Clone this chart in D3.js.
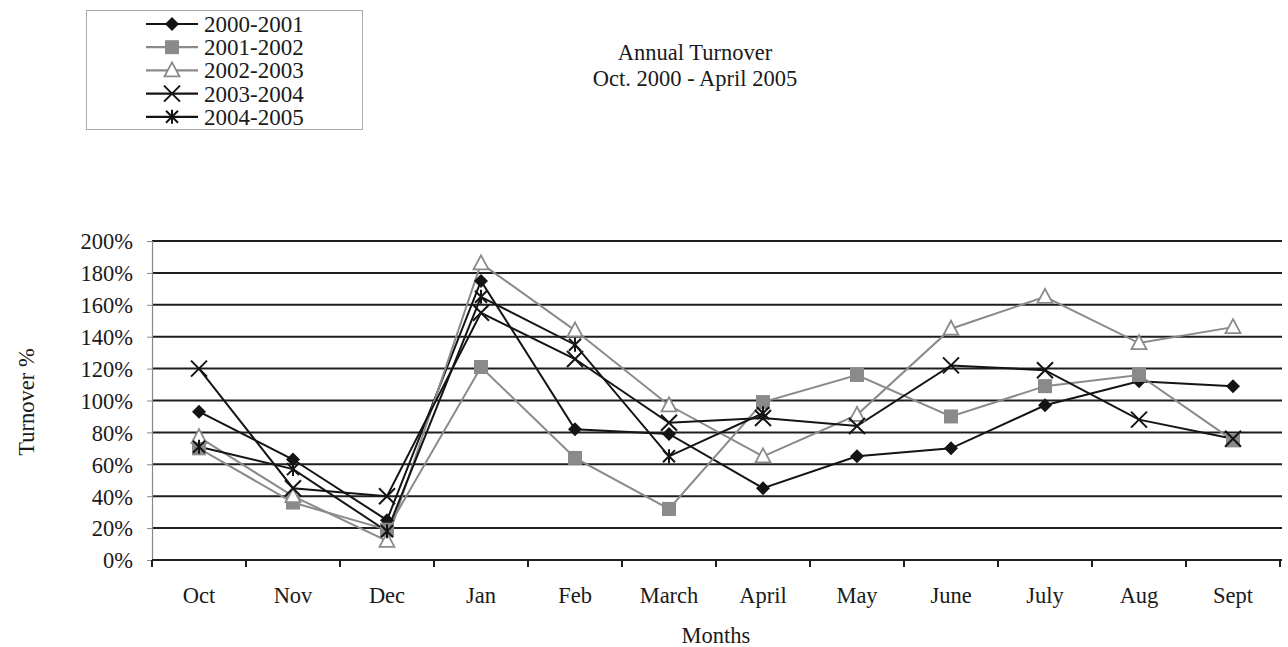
<!DOCTYPE html>
<html>
<head>
<meta charset="utf-8">
<script src="https://cdn.jsdelivr.net/npm/d3@7"></script>
<style>
  html, body { margin: 0; padding: 0; background: #fff; }
  svg { display: block; }
  text { font-family: "Liberation Serif", "DejaVu Serif", serif; fill: #1a1a1a; }
</style>
</head>
<body>
<svg id="chart" width="1288" height="647"></svg>
<script>
// Months of the fiscal year (Oct -> Sept)
const months = ["Oct", "Nov", "Dec", "Jan", "Feb", "March", "April", "May", "June", "July", "Aug", "Sept"];

// Turnover % per month, one array per year
const y2000_2001 = [93, 63, 25, 175, 82, 79, 45, 65, 70, 97, 112, 109];
const y2001_2002 = [70, 36, 19, 121, 64, 32, 99, 116, 90, 109, 116, 75];
const y2002_2003 = [77, 40, 12, 186, 144, 97, 65, 91, 145, 165, 136, 146];
const y2003_2004 = [120, 45, 40, 155, 126, 86, 89, 84, 122, 119, 88, 76];
const y2004_2005 = [71, 57, 18, 165, 135, 65, 92];

const yTicks = [0, 20, 40, 60, 80, 100, 120, 140, 160, 180, 200];

const seriesNames = ["2000-2001", "2001-2002", "2002-2003", "2003-2004", "2004-2005"];
const seriesValues = [y2000_2001, y2001_2002, y2002_2003, y2003_2004, y2004_2005];
const seriesStyle = [
  { line: "#141414", marker: "diamond" },
  { line: "#8a8a8a", marker: "square" },
  { line: "#8a8a8a", marker: "triangle" },
  { line: "#141414", marker: "cross" },
  { line: "#141414", marker: "asterisk" }
];

const FS = "22.5px";
const svg = d3.select("#chart");
const plot = { left: 152, right: 1282, top: 241, bottom: 560 };

const x = d3.scaleBand().domain(months).range([plot.left, plot.left + 94 * 12]).paddingInner(0).paddingOuter(0);
const y = d3.scaleLinear().domain([0, 200]).range([plot.bottom, plot.top]);
const cx = m => x(m) + x.bandwidth() / 2;

// Title
const title = svg.append("text").attr("text-anchor", "middle").style("font-size", FS);
title.append("tspan").attr("x", 695).attr("y", 60).text("Annual Turnover");
title.append("tspan").attr("x", 695).attr("y", 86).text("Oct. 2000 - April 2005");

// Horizontal gridlines
svg.append("g").selectAll("line").data(yTicks.filter(t => t > 0)).join("line")
  .attr("x1", plot.left).attr("x2", plot.right)
  .attr("y1", d => y(d)).attr("y2", d => y(d))
  .attr("stroke", "#1e1e1e").attr("stroke-width", 2);

// Y axis
const yAxis = svg.append("g").attr("transform", `translate(${plot.left},0)`)
  .call(d3.axisLeft(y).tickValues(yTicks).tickFormat(d => d + "%").tickSize(5).tickPadding(14));
yAxis.select(".domain").attr("stroke", "#888").attr("stroke-width", 1.2);
yAxis.selectAll(".tick line").attr("stroke", "#888");
yAxis.selectAll(".tick text").style("font-size", FS).attr("fill", "#1a1a1a")
  .style("font-family", "Liberation Serif, serif").attr("dy", "0.35em");

// X axis
const boundaries = months.map(m => x(m)).concat([x(months[months.length - 1]) + x.bandwidth()]);
const xg = svg.append("g");
xg.append("line").attr("x1", plot.left).attr("x2", plot.right)
  .attr("y1", plot.bottom).attr("y2", plot.bottom).attr("stroke", "#1e1e1e").attr("stroke-width", 2);
xg.selectAll("line.tk").data(boundaries).join("line").attr("class", "tk")
  .attr("x1", d => d).attr("x2", d => d).attr("y1", plot.bottom).attr("y2", plot.bottom + 7)
  .attr("stroke", "#1e1e1e").attr("stroke-width", 2);
xg.selectAll("text").data(months).join("text")
  .attr("x", d => cx(d)).attr("y", 603).attr("text-anchor", "middle")
  .style("font-size", FS).text(d => d);

// Axis titles
svg.append("text").attr("x", 716).attr("y", 643).attr("text-anchor", "middle")
  .style("font-size", FS).text("Months");
svg.append("text").attr("transform", "translate(34,402) rotate(-90)").attr("text-anchor", "middle")
  .style("font-size", FS).text("Turnover %");

// Marker drawing
function drawMarker(g, type) {
  if (type === "diamond") {
    g.append("path").attr("d", "M0,-7L7,0L0,7L-7,0Z").attr("fill", "#141414");
  } else if (type === "square") {
    g.append("rect").attr("x", -7).attr("y", -7).attr("width", 14).attr("height", 14).attr("fill", "#8a8a8a");
  } else if (type === "triangle") {
    g.append("path").attr("d", "M0,-8L7.5,6L-7.5,6Z").attr("fill", "#fff").attr("stroke", "#8a8a8a").attr("stroke-width", 1.8);
  } else if (type === "cross") {
    g.append("path").attr("d", "M-8,-8L8,8M-8,8L8,-8").attr("stroke", "#141414").attr("stroke-width", 2);
  } else if (type === "asterisk") {
    g.append("path").attr("d", "M-6,-6L6,6M-6,6L6,-6M0,-7L0,7").attr("stroke", "#141414").attr("stroke-width", 2);
  }
}

// Series lines and markers
const line = d3.line().x(d => cx(d.m)).y(d => y(d.v));
seriesValues.forEach((vals, i) => {
  const pts = vals.map((v, j) => ({ m: months[j], v }));
  svg.append("path").datum(pts).attr("d", line).attr("fill", "none")
    .attr("stroke", seriesStyle[i].line).attr("stroke-width", 2);
});
seriesValues.forEach((vals, i) => {
  vals.forEach((v, j) => {
    const g = svg.append("g").attr("transform", `translate(${cx(months[j])},${y(v)})`);
    drawMarker(g, seriesStyle[i].marker);
  });
});

// Legend
const legend = svg.append("g");
legend.append("rect").attr("x", 86.5).attr("y", 10.5).attr("width", 276).attr("height", 119)
  .attr("fill", "#fff").attr("stroke", "#aaa").attr("stroke-width", 1);
seriesNames.forEach((name, i) => {
  const ly = 24 + i * 23.2;
  const g = legend.append("g");
  g.append("line").attr("x1", 146).attr("x2", 198).attr("y1", ly).attr("y2", ly)
    .attr("stroke", seriesStyle[i].line).attr("stroke-width", 2.2);
  drawMarker(g.append("g").attr("transform", `translate(172,${ly})`), seriesStyle[i].marker);
  g.append("text").attr("x", 204).attr("y", ly).attr("dy", "0.35em").style("font-size", "23px").text(name);
});
</script>
</body>
</html>
